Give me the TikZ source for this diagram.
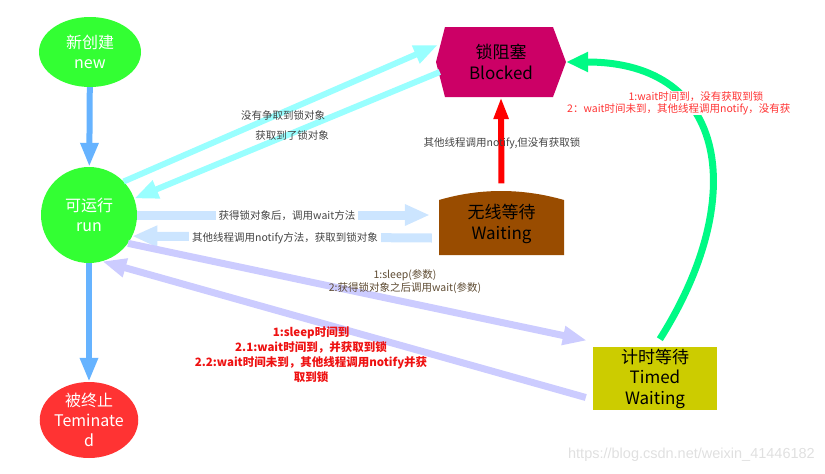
\documentclass[tikz,border=0pt]{standalone}
\usepackage{fontspec}
\setmainfont{Noto Sans CJK SC}
\newfontfamily\wmfont{Liberation Sans}
\usetikzlibrary{arrows.meta,shapes.geometric}
\definecolor{nodegreen}{HTML}{33FF33}
\definecolor{nodered}{HTML}{FF3333}
\definecolor{blockc}{HTML}{CC0066}
\definecolor{waitc}{HTML}{994C00}
\definecolor{timedc}{HTML}{CCCC00}
\definecolor{flowc}{HTML}{66B3FF}
\definecolor{cyanc}{HTML}{99FFFF}
\definecolor{lbluec}{HTML}{CCE5FF}
\definecolor{purc}{HTML}{CCCCFF}
\definecolor{greenc}{HTML}{00FA85}
\definecolor{labgray}{HTML}{444444}
\definecolor{labbrown}{HTML}{5E4B32}
\definecolor{labred}{HTML}{FF3333}
\definecolor{labredb}{HTML}{EE1111}
\tikzset{
  big/.style={font=\fontsize{16}{20}\selectfont, align=center},
  stnode/.style={big, inner sep=0pt},
  lab/.style={font=\fontsize{10.5}{13}\selectfont, inner sep=1pt},
  flowarr/.style={draw=flowc, line width=6pt, -{Triangle[length=24pt,width=17pt]}},
  cyanarr/.style={draw=cyanc, line width=6pt, -{Triangle[length=24pt,width=18pt]}},
  lbarr/.style={draw=lbluec, line width=9pt, -{Triangle[length=25pt,width=20pt]}},
  purarr/.style={draw=purc, line width=7pt, -{Triangle[length=24pt,width=18pt]}},
  redarr/.style={draw=red, line width=6pt, -{Triangle[length=22pt,width=14pt]}},
  greenarr/.style={draw=greenc, line width=7pt, -{Triangle[length=22pt,width=19pt]}},
}
\begin{document}
\begin{tikzpicture}[x=1pt,y=-1pt]
\useasboundingbox (0,0) rectangle (825,474);
% shapes drawn directly
\fill[blockc] (445,27) -- (553,27) -- (566,62) -- (553,97) -- (445,97) -- (436,62) -- cycle;
\fill[waitc] (439,255) -- (439,200) .. controls (480,188) and (522,188) .. (564,200) -- (564,255) -- cycle;
\fill[timedc] (593,347) rectangle (717,410);
% nodes
\node[stnode, ellipse, fill=nodegreen, minimum width=102pt, minimum height=70pt, text=white] (new) at (90,52) {新创建\\new};
\node[stnode, circle, fill=nodegreen, minimum size=96pt, text=white] (run) at (89,215) {可运行\\run};
\node[stnode, ellipse, fill=nodered, minimum width=98pt, minimum height=76pt, text=white] (term) at (89,420) {被终止\\Teminate\\d};
\node[stnode, minimum width=130pt, minimum height=70pt, font=\fontsize{17}{21}\selectfont] (blocked) at (501,62) {锁阻塞\\Blocked};
\node[stnode, minimum width=125pt, minimum height=63pt, font=\fontsize{17}{21}\selectfont] (waiting) at (501.5,224) {无线等待\\Waiting};
\node[stnode, minimum width=124pt, minimum height=63pt, font=\fontsize{17}{20.5}\selectfont] (timed) at (655,378.5) {计时等待\\Timed\\Waiting};
% connectors
\draw[flowarr] (new) -- (run);
\draw[flowarr] (run) -- (term);
\draw[cyanarr] (run.44) -- ([shift={(2,-17)}]blocked.west);
\draw[cyanarr] ([shift={(4,10)}]blocked.west) -- (run.20);
\draw[lbarr] (run.0) -- ([shift={(-9,-9)}]waiting.west);
\draw[lbarr] ([shift={(-7,14)}]waiting.west) -- (run.-26);
\draw[purarr] (run.-36) -- ([shift={(-6,-38)}]timed.west);
\draw[purarr] ([shift={(-7,19)}]timed.west) -- (run.-74);
\draw[redarr, shorten <=9pt] (waiting.north) -- (blocked.south);
\draw[greenarr, shorten <=9pt] (timed.north) .. controls (748,200) and (730,62) .. (blocked.east);
% labels
\node[lab, text=labgray] (l1) at (283,115) {没有争取到锁对象};
\node[lab, text=labgray] (l2) at (292,135) {获取到了锁对象};
\node[lab, text=labgray] (l3) at (502,143) {其他线程调用notify,但没有获取锁};
\node[lab, text=labgray, fill=white, inner xsep=3pt] (l4) at (287,216) {获得锁对象后，调用wait方法};
\node[lab, text=labgray, fill=white, inner xsep=3pt] (l5) at (285,238) {其他线程调用notify方法，获取到锁对象};
\node[lab, text=labbrown, align=center, font=\fontsize{10.5}{13}\selectfont] (l6) at (405,281.5) {1:sleep(参数)\\2:获得锁对象之后调用wait(参数)};
\node[lab, text=labredb, align=center, font=\fontsize{11.5}{15}\selectfont\bfseries] (l7) at (311,354.5) {1:sleep时间到\\2.1:wait时间到，并获取到锁\\2.2:wait时间未到，其他线程调用notify并获\\取到锁};
\node[lab, text=labred, fill=white, inner ysep=0.5pt] (l8) at (696,97) {1:wait时间到，没有获取到锁};
\node[lab, text=labred, fill=white, inner ysep=0.5pt, anchor=west] (l9) at (566,109) {2：wait时间未到，其他线程调用notify，没有获};
\node[text=black!12, anchor=east, font=\wmfont\fontsize{14.5}{16}\selectfont, inner sep=0pt] (wm) at (815,455) {https://blog.csdn.net/weixin\_41446182};
\end{tikzpicture}
\end{document}
